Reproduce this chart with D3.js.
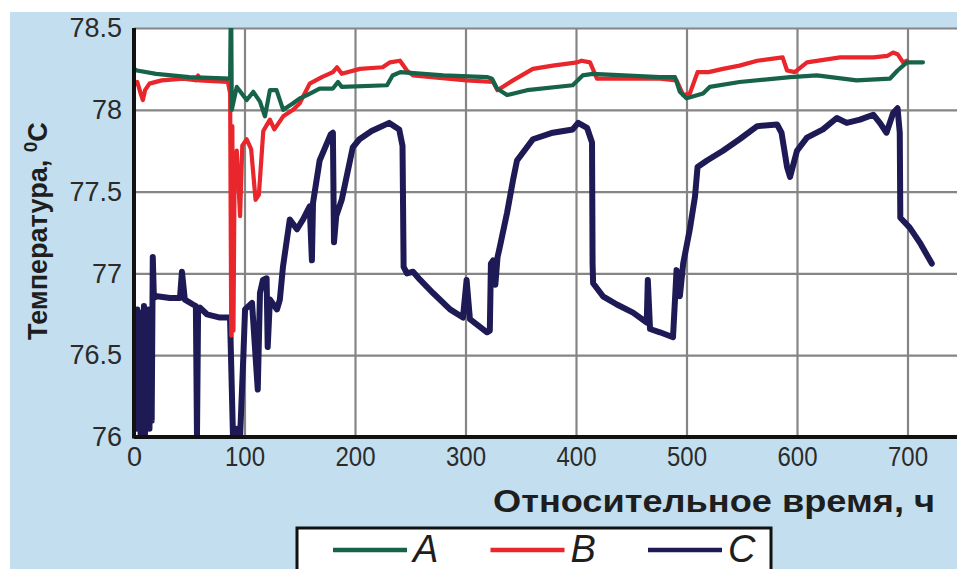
<!DOCTYPE html>
<html>
<head>
<meta charset="utf-8">
<script src="https://cdn.jsdelivr.net/npm/d3@7"></script>
<style>
  html, body { margin: 0; padding: 0; background: #fff; }
  svg { display: block; }
</style>
</head>
<body>
<div id="chart"></div>
<script>
// series A (green)
const timeA = [0, 2.7, 20, 50, 87, 87.5, 88, 88.5, 93, 102, 108, 114, 118.5, 123, 129, 135, 144, 150, 156.6, 168, 180, 184.6, 188, 229, 234, 241, 280, 319.5, 324, 328.5, 337.6, 355.7, 397, 406, 415, 476, 489.6, 494, 500, 515, 521, 548, 594, 618, 654, 684, 691, 699.5, 714];
const tempA = [78.25, 78.24, 78.22, 78.2, 78.19, 78.55, 78.55, 78.0, 78.14, 78.06, 78.11, 78.05, 77.96, 78.12, 78.12, 78.0, 78.04, 78.07, 78.09, 78.13, 78.13, 78.17, 78.14, 78.15, 78.21, 78.23, 78.21, 78.2, 78.19, 78.13, 78.09, 78.12, 78.15, 78.21, 78.22, 78.2, 78.2, 78.11, 78.07, 78.1, 78.14, 78.17, 78.2, 78.21, 78.18, 78.19, 78.24, 78.29, 78.29];

// series B (red)
const timeB = [0, 3, 6, 8, 10, 14, 25, 45, 57, 58, 59, 85, 87, 88, 89, 90, 91, 93, 96, 98, 102, 106, 110, 113, 117, 123, 127, 135, 144, 150, 159, 170, 180, 183.7, 188, 204.5, 225, 231.7, 240.7, 247, 252.5, 301, 325, 329, 343, 361, 379, 401, 405, 412.7, 419, 476, 491, 497, 503, 510, 520, 533, 548, 564, 587, 591, 598, 609, 639, 669, 682, 687, 691, 696, 699.5];
const tempB = [78.15, 78.17, 78.1, 78.06, 78.12, 78.16, 78.18, 78.19, 78.18, 78.21, 78.18, 78.17, 78.1, 76.62, 77.9, 76.65, 77.6, 77.75, 77.35, 77.78, 77.82, 77.76, 77.45, 77.48, 77.87, 77.94, 77.88, 77.96, 78.0, 78.04, 78.16, 78.2, 78.23, 78.26, 78.22, 78.25, 78.26, 78.29, 78.3, 78.24, 78.21, 78.18, 78.17, 78.12, 78.18, 78.25, 78.27, 78.29, 78.3, 78.29, 78.19, 78.19, 78.18, 78.09, 78.1, 78.23, 78.23, 78.25, 78.27, 78.3, 78.32, 78.24, 78.23, 78.29, 78.32, 78.32, 78.33, 78.35, 78.34, 78.29, 78.3];

// series C (navy)
const timeC = [0, 1, 2, 3, 4, 5, 6, 7, 8, 9, 10, 11, 12, 13, 14, 15, 16, 17, 18, 20.8, 32.6, 41.6, 43.4, 46, 53.4, 56, 57, 58, 59.7, 66, 77.8, 86.9, 89.6, 93, 96, 99, 100.5, 106.8, 112, 114, 116.7, 120, 121, 123, 129.4, 132, 134.8, 141, 147.5, 153, 159, 161, 162, 168, 178, 180, 181, 183, 188, 198, 204, 215, 231, 240, 243, 244, 247, 252.5, 259, 270.6, 286, 297.7, 301, 304, 319.5, 322, 323, 325, 327, 329, 331, 337.6, 343, 346.6, 361, 379, 397, 402, 410, 414.5, 415, 415.5, 424.4, 437, 451.6, 464, 465, 467, 476, 487.8, 491, 494, 497, 503, 507.7, 510, 518.6, 533, 548, 564, 582, 586, 591, 593.7, 600, 609, 623.5, 636, 645, 657, 669, 675, 681, 687, 691, 693, 693.5, 702, 711, 722];
const tempC = [76.2, 76.75, 76.05, 76.78, 76.1, 76.72, 76.0, 76.76, 76.08, 76.8, 76.02, 76.75, 76.1, 76.78, 76.05, 76.7, 76.1, 77.1, 76.85, 76.86, 76.85, 76.85, 77.01, 76.84, 76.81, 76.8, 76.0, 76.78, 76.79, 76.75, 76.73, 76.73, 76.0, 76.05, 76.0, 76.5, 76.78, 76.82, 76.29, 76.88, 76.96, 76.97, 76.55, 76.84, 76.78, 76.84, 77.04, 77.33, 77.27, 77.33, 77.41, 77.08, 77.43, 77.69, 77.85, 77.86, 77.19, 77.35, 77.45, 77.77, 77.82, 77.87, 77.92, 77.88, 77.78, 77.04, 77.0, 77.01, 76.96, 76.88, 76.78, 76.73, 76.96, 76.72, 76.64, 76.65, 77.06, 77.08, 76.93, 77.1, 77.16, 77.37, 77.57, 77.69, 77.82, 77.86, 77.88, 77.92, 77.89, 77.8, 77.06, 76.94, 76.86, 76.81, 76.76, 76.7, 76.96, 76.66, 76.64, 76.61, 77.02, 76.86, 77.06, 77.27, 77.47, 77.65, 77.69, 77.75, 77.82, 77.9, 77.91, 77.86, 77.65, 77.59, 77.75, 77.83, 77.88, 77.95, 77.92, 77.94, 77.97, 77.92, 77.86, 77.98, 78.01, 77.86, 77.34, 77.28, 77.19, 77.06];

const xTicks = [0, 100, 200, 300, 400, 500, 600, 700];
const yTicks = [76, 76.5, 77, 77.5, 78, 78.5];
const legendNames = ["A", "B", "C"];

const colors = { A: "#17634a", B: "#e8262b", C: "#1d1a55" };

const width = 957, height = 569;
const plot = { left: 134, right: 957, top: 28, bottom: 437 };

const svg = d3.select("#chart")
  .append("svg")
  .attr("width", width)
  .attr("height", height);

// light blue page background
svg.append("rect")
  .attr("x", 10).attr("y", 12)
  .attr("width", width - 10).attr("height", height - 12)
  .attr("fill", "#c3dfef");

svg.append("rect")
  .attr("x", plot.left).attr("y", plot.top)
  .attr("width", plot.right - plot.left).attr("height", plot.bottom - plot.top)
  .attr("fill", "#fff");

const x = d3.scaleLinear()
  .domain([0, (plot.right - plot.left) / 1.105])
  .range([plot.left, plot.right]);

const y = d3.scaleLinear()
  .domain([76, 78.5])
  .range([plot.bottom, plot.top]);

// grid
svg.append("g")
  .attr("transform", `translate(0,${plot.bottom})`)
  .call(d3.axisBottom(x).tickValues(xTicks).tickSize(-(plot.bottom - plot.top)).tickFormat(""))
  .call(g => g.select(".domain").remove())
  .call(g => g.selectAll("line").attr("stroke", "#858585").attr("stroke-width", 2.2));

svg.append("g")
  .attr("transform", `translate(${plot.left},0)`)
  .call(d3.axisLeft(y).tickValues(yTicks).tickSize(-(plot.right - plot.left)).tickFormat(""))
  .call(g => g.select(".domain").remove())
  .call(g => g.selectAll("line").attr("stroke", "#858585").attr("stroke-width", 2.2));

// lines
svg.append("clipPath").attr("id", "clip")
  .append("rect")
  .attr("x", plot.left).attr("y", plot.top)
  .attr("width", plot.right - plot.left).attr("height", plot.bottom - plot.top);

const line = d3.line()
  .x(d => x(d[0]))
  .y(d => y(d[1]));

const series = [
  { name: "C", t: timeC, v: tempC, w: 6 },
  { name: "B", t: timeB, v: tempB, w: 4.2 },
  { name: "A", t: timeA, v: tempA, w: 4.2 }
];

const lines = svg.append("g").attr("clip-path", "url(#clip)");
series.forEach(s => {
  lines.append("path")
    .datum(s.t.map((t, i) => [t, s.v[i]]))
    .attr("d", line)
    .attr("fill", "none")
    .attr("stroke", colors[s.name])
    .attr("stroke-width", s.w)
    .attr("stroke-linejoin", "round")
    .attr("stroke-linecap", "round");
});

// axes lines
svg.append("line")
  .attr("x1", plot.left).attr("x2", plot.left)
  .attr("y1", plot.top).attr("y2", plot.bottom + 1.5)
  .attr("stroke", "#111").attr("stroke-width", 4);
svg.append("line")
  .attr("x1", plot.left).attr("x2", plot.right)
  .attr("y1", plot.bottom).attr("y2", plot.bottom)
  .attr("stroke", "#111").attr("stroke-width", 4);

// tick labels
svg.append("g")
  .attr("transform", `translate(${plot.left},0)`)
  .call(d3.axisLeft(y).tickValues(yTicks).tickSize(0).tickPadding(12).tickFormat(d3.format("")))
  .call(g => g.select(".domain").remove())
  .call(g => g.selectAll("text")
    .attr("fill", "#2b2b2b")
    .style("font-family", "'Liberation Sans', Arial, sans-serif")
    .style("font-size", "27px"));

svg.append("g")
  .attr("transform", `translate(0,${plot.bottom})`)
  .call(d3.axisBottom(x).tickValues(xTicks).tickSize(0).tickPadding(10).tickFormat(d3.format("")))
  .call(g => g.select(".domain").remove())
  .call(g => g.selectAll("text")
    .attr("fill", "#2b2b2b")
    .attr("textLength", d => d === 0 ? null : 40)
    .attr("lengthAdjust", "spacingAndGlyphs")
    .style("font-family", "'Liberation Sans Narrow', 'Liberation Sans', Arial, sans-serif")
    .style("font-size", "27px"));

// axis titles
svg.append("text")
  .attr("x", 935).attr("y", 512)
  .attr("text-anchor", "end")
  .attr("textLength", 442)
  .attr("lengthAdjust", "spacingAndGlyphs")
  .attr("fill", "#1e1e1e")
  .style("font-family", "'Liberation Sans', Arial, sans-serif")
  .style("font-weight", "bold")
  .style("font-size", "32px")
  .text("Относительное время, ч");

const yTitle = svg.append("text")
  .attr("transform", "translate(47,340) rotate(-90)")
  .attr("fill", "#1e1e1e")
  .style("font-family", "'Liberation Sans', Arial, sans-serif")
  .style("font-weight", "bold")
  .style("font-size", "27px");
yTitle.append("tspan").text("Температура, ");
yTitle.append("tspan").attr("dy", -10).style("font-size", "19px").text("0");
yTitle.append("tspan").attr("dy", 10).text("C");

// legend
const legend = svg.append("g");
legend.append("rect")
  .attr("x", 297).attr("y", 528)
  .attr("width", 474).attr("height", 60)
  .attr("fill", "#fff")
  .attr("stroke", "#111").attr("stroke-width", 3);

const legendX = d3.scalePoint()
  .domain(legendNames)
  .range([333, 648]);

legendNames.forEach(n => {
  const lx = legendX(n);
  legend.append("line")
    .attr("x1", lx).attr("x2", lx + 74)
    .attr("y1", 550).attr("y2", 550)
    .attr("stroke", colors[n]).attr("stroke-width", 4.5);
  legend.append("text")
    .attr("x", lx + 80).attr("y", 562)
    .attr("fill", "#1e1e1e")
    .style("font-family", "'Liberation Sans', Arial, sans-serif")
    .style("font-style", "italic")
    .style("font-size", "38px")
    .text(n);
});
</script>
</body>
</html>
